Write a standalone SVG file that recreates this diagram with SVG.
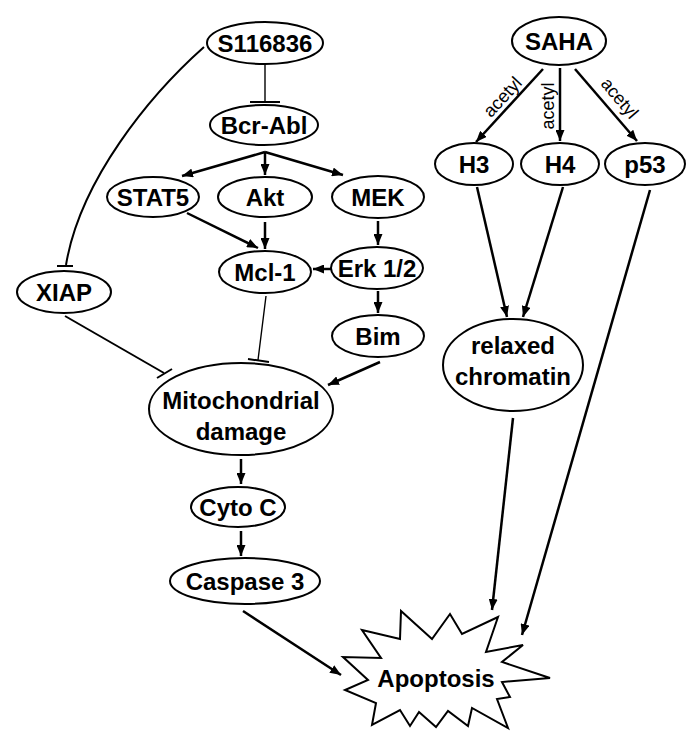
<svg xmlns="http://www.w3.org/2000/svg" width="700" height="745" viewBox="0 0 700 745">
<style>
.n ellipse{fill:#fff;stroke:#000;stroke-width:2}
.n polygon{fill:#fff;stroke:#000;stroke-width:2;stroke-linejoin:miter}
.n text{font-family:"Liberation Sans",Arial,sans-serif;font-weight:bold;font-size:24px;text-anchor:middle;fill:#000}
.a{stroke:#000;stroke-width:2.5;fill:none;marker-end:url(#ah)}
.i{stroke:#000;stroke-width:2;fill:none}
.t{stroke:#000;stroke-width:1.4;fill:none}
.bar{stroke:#000;stroke-width:2;fill:none}
.lbl{font-family:"Liberation Sans",Arial,sans-serif;font-size:18px;text-anchor:middle;fill:#000}
</style>
<defs>
<marker id="ah" viewBox="0 0 11 9" markerWidth="11" markerHeight="9" refX="11" refY="4.5" orient="auto" markerUnits="userSpaceOnUse"><path d="M0,0 L11,4.5 L0,9 z" fill="#000"/></marker>
</defs>
<rect width="700" height="745" fill="#fff"/>
<g id="connectors">
<line class="t" x1="265" y1="64" x2="265" y2="102"/>
<line class="bar" x1="250" y1="102" x2="280" y2="102"/>
<path class="i" d="M204,47 C150,95 80,180 66,265"/>
<line class="bar" x1="57" y1="266" x2="73" y2="266"/>
<polyline class="a" points="265,152 182,176"/>
<line class="a" x1="265" y1="152" x2="265" y2="175"/>
<polyline class="a" points="265,152 343,175"/>
<line class="a" x1="187" y1="213" x2="258" y2="248"/>
<line class="a" x1="265" y1="222" x2="265" y2="249"/>
<line class="a" x1="378" y1="221" x2="378" y2="245"/>
<line class="a" x1="331" y1="269" x2="313" y2="269"/>
<line class="a" x1="378" y1="291" x2="378" y2="313"/>
<line class="t" x1="266" y1="296" x2="258" y2="360"/>
<line class="bar" x1="248" y1="359" x2="269" y2="362"/>
<line class="i" x1="65" y1="316" x2="164" y2="373"/>
<line class="bar" x1="157" y1="378" x2="172" y2="369"/>
<line class="a" x1="380" y1="362" x2="328" y2="385"/>
<line class="a" x1="241" y1="459" x2="241" y2="484"/>
<line class="a" x1="241" y1="531" x2="241" y2="556"/>
<line class="a" x1="243" y1="611" x2="341" y2="675"/>
<line class="a" x1="543" y1="69" x2="476" y2="142"/>
<line class="a" x1="560" y1="68" x2="560" y2="141"/>
<line class="a" x1="575" y1="69" x2="637" y2="141"/>
<line class="a" x1="477" y1="187" x2="507" y2="317"/>
<line class="a" x1="563" y1="187" x2="523" y2="317"/>
<line class="a" x1="513" y1="418" x2="492" y2="610"/>
<line class="a" x1="650" y1="190" x2="522" y2="635"/>
<text class="lbl" transform="translate(507,101) rotate(-47)">acetyl</text>
<text class="lbl" transform="translate(554,106) rotate(-90)">acetyl</text>
<text class="lbl" transform="translate(615,102) rotate(50)">acetyl</text>
</g>
<g id="S116836" class="n"><ellipse cx="265" cy="43" rx="58" ry="21"/><text x="265" y="52">S116836</text></g>
<g id="BcrAbl" class="n"><ellipse cx="264" cy="125" rx="54" ry="20"/><text x="264" y="134">Bcr-Abl</text></g>
<g id="STAT5" class="n"><ellipse cx="153" cy="197" rx="46" ry="20"/><text x="153" y="206">STAT5</text></g>
<g id="Akt" class="n"><ellipse cx="265" cy="197" rx="47" ry="20"/><text x="265" y="206">Akt</text></g>
<g id="MEK" class="n"><ellipse cx="378" cy="197" rx="46" ry="21"/><text x="378" y="206">MEK</text></g>
<g id="Mcl1" class="n"><ellipse cx="265" cy="272" rx="46" ry="21"/><text x="265" y="281">Mcl-1</text></g>
<g id="Erk" class="n"><ellipse cx="377" cy="268" rx="46" ry="21"/><text x="377" y="277">Erk 1/2</text></g>
<g id="Bim" class="n"><ellipse cx="378" cy="336" rx="46" ry="21"/><text x="378" y="345">Bim</text></g>
<g id="XIAP" class="n"><ellipse cx="64" cy="292" rx="47" ry="21"/><text x="64" y="301">XIAP</text></g>
<g id="Mito" class="n"><ellipse cx="241" cy="409" rx="92" ry="46"/><text x="241" y="409">Mitochondrial</text><text x="241" y="440">damage</text></g>
<g id="CytoC" class="n"><ellipse cx="238" cy="507" rx="47" ry="20"/><text x="238" y="516">Cyto C</text></g>
<g id="Casp3" class="n"><ellipse cx="245" cy="581" rx="75" ry="23"/><text x="245" y="590">Caspase 3</text></g>
<g id="SAHA" class="n"><ellipse cx="559" cy="41" rx="47" ry="24"/><text x="559" y="50">SAHA</text></g>
<g id="H3" class="n"><ellipse cx="474" cy="164" rx="39" ry="21"/><text x="474" y="173">H3</text></g>
<g id="H4" class="n"><ellipse cx="560" cy="164" rx="39" ry="21"/><text x="560" y="173">H4</text></g>
<g id="p53" class="n"><ellipse cx="645" cy="164" rx="40" ry="21"/><text x="645" y="173">p53</text></g>
<g id="chromatin" class="n"><ellipse cx="513" cy="365" rx="70" ry="46"/><text x="513" y="354">relaxed</text><text x="513" y="385">chromatin</text></g>
<g id="Apoptosis" class="n"><polygon points="362,630 400,639 401,611 432,639 450,614 462,634 498,617 486,652 523,645 502,662 550,678 502,682 510,697 497,699 508,728 472,708 468,726 448,711 436,727 419,712 410,726 400,710 372,725 376,703 345,690 368,680 343,657 381,658"/><text x="436" y="687">Apoptosis</text></g>
</svg>
